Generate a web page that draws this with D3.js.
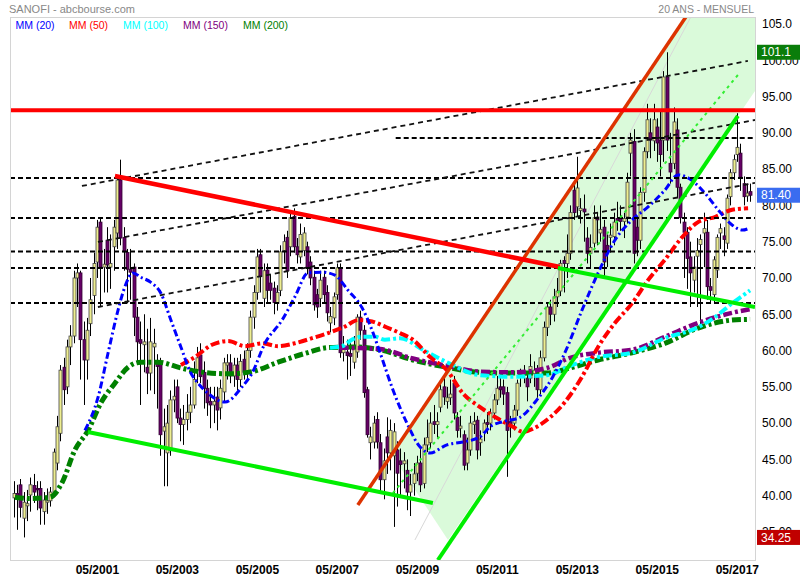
<!DOCTYPE html>
<html><head><meta charset="utf-8">
<script src="https://cdn.jsdelivr.net/npm/d3@7"></script>
<style>body{margin:0;background:#fff}svg{display:block}</style>
</head><body><svg id="c" width="800" height="580"></svg>
<script>
// ---------- DATA ----------
const firstMonth = [1999, 3]; // April 1999, monthly candles
const opens = [
39.7,40.3,41.5,36.9,38.6,40.1,41.4,41.0,41.0,37.8,39.1,39.3,
40.5,44.5,48.6,57.7,55.0,60.5,62.0,70.0,70.7,61.5,58.7,63.7,
67.6,72.2,77.7,71.5,75.2,71.5,74.3,76.2,83.5,75.6,73.5,71.2,
71.5,64.6,61.5,60.8,57.7,56.9,60.5,58.5,58.3,48.9,45.9,46.3,
53.2,55.0,50.7,49.8,50.5,51.5,52.5,57.3,59.4,57.0,54.8,53.0,
52.5,53.6,52.1,54.3,58.0,58.3,56.5,58.0,56.0,58.8,57.0,60.0,
64.6,68.0,73.2,67.2,71.1,69.3,68.6,66.5,68.3,73.8,75.6,74.3,
78.5,74.3,72.9,73.8,74.3,72.2,70.1,67.7,67.2,70.1,68.0,63.8,
64.5,67.7,71.4,59.7,59.8,59.6,58.4,59.8,64.6,62.8,54.6,47.3,
47.4,50.5,47.3,42.2,48.1,45.9,45.5,46.3,44.8,44.4,43.5,40.5,
41.7,43.1,44.5,41.7,47.0,47.3,50.2,49.8,52.2,55.0,53.0,53.5,
55.5,50.8,49.3,48.4,44.5,46.3,49.8,50.4,47.3,48.7,50.1,50.0,
51.4,53.2,55.0,55.0,54.2,50.2,50.0,51.8,56.3,56.6,56.2,56.2,
56.8,57.3,54.6,59.0,63.2,66.0,65.0,67.4,68.2,72.4,72.0,73.4,
82.1,79.8,79.3,79.5,75.5,73.4,74.8,78.4,76.2,77.0,74.5,75.6,
75.7,78.2,78.2,77.8,78.4,87.2,88.8,77.0,75.2,81.8,87.4,90.0,
88.9,90.8,89.0,89.0,97.7,85.8,85.8,90.4,82.5,77.7,76.3,72.9,
69.7,73.0,74.6,76.2,76.3,68.8,67.7,71.1,76.2,75.8,74.8,81.2,
84.5,87.0,87.2,83.0,81.3,81.9];
const highs = [
42.0,41.5,42.3,40.5,40.8,42.5,43.0,42.0,42.0,40.5,41.0,41.2,
46.5,51.0,58.0,59.0,61.5,63.5,71.0,72.0,71.0,64.0,64.5,70.0,
73.5,78.0,78.3,74.0,77.0,76.0,78.0,84.0,86.3,77.0,74.0,74.0,
72.0,66.0,64.0,65.0,63.0,64.5,63.0,59.5,59.0,52.0,52.5,54.5,
56.0,56.0,52.0,52.5,54.0,55.0,58.5,60.5,61.0,58.5,56.0,55.0,
55.0,55.0,56.0,59.0,59.5,59.5,59.0,59.0,59.5,60.0,61.0,65.5,
69.0,74.0,74.0,72.0,72.0,70.5,69.5,69.0,74.5,76.0,76.5,79.0,
79.6,75.5,77.5,77.0,75.0,73.0,71.0,68.5,71.0,71.0,69.0,66.0,
68.0,72.0,72.0,62.0,61.5,61.0,62.0,65.0,65.5,63.5,55.0,49.5,
51.0,51.5,48.5,46.5,50.8,50.5,50.0,47.5,46.5,46.0,45.0,43.0,
44.5,45.5,46.5,48.0,50.5,51.5,52.5,51.5,55.5,56.5,55.0,56.0,
56.5,51.5,51.0,49.0,48.0,51.0,51.5,51.0,49.0,50.5,51.5,52.0,
54.0,56.5,56.5,56.0,55.0,51.0,52.5,56.0,57.5,58.0,57.0,59.5,
58.5,58.0,60.0,64.0,66.5,67.0,68.5,70.0,72.5,73.0,76.0,80.0,
83.0,86.7,81.0,81.5,77.0,76.0,80.0,79.0,80.0,78.0,76.0,77.5,
79.0,80.5,80.0,79.0,84.5,90.0,90.5,78.5,82.5,88.0,94.0,92.0,
94.0,92.0,93.0,98.5,101.1,90.0,93.5,92.0,83.0,79.0,77.0,75.0,
73.0,75.5,76.0,79.0,78.0,70.0,73.0,76.0,77.5,77.0,81.5,85.0,
87.0,92.7,88.5,84.0,83.0,83.0];
const lows = [
37.0,35.3,37.0,34.25,36.5,37.8,39.0,38.0,36.0,36.0,37.5,38.5,
39.8,43.5,47.5,52.5,54.0,58.0,61.0,66.0,56.0,52.5,56.0,62.0,
65.0,70.0,66.0,68.0,68.0,68.5,71.0,74.0,74.5,71.0,66.5,67.0,
62.0,58.0,52.5,57.0,54.0,54.5,54.0,52.0,45.5,41.3,41.3,45.5,
51.5,50.0,47.5,47.0,49.0,50.0,52.0,55.5,55.5,52.0,51.0,49.3,
50.0,49.0,50.5,53.0,56.0,55.5,55.0,54.5,55.0,56.0,56.0,59.0,
63.0,67.0,68.0,66.0,66.5,67.0,65.0,65.5,67.5,72.0,70.0,73.0,
73.5,72.0,72.0,73.0,70.5,69.0,65.5,64.5,66.0,66.5,64.0,62.5,
63.5,67.0,59.0,58.5,56.0,56.5,57.5,59.0,61.5,53.5,48.0,45.0,
46.5,46.5,40.5,39.5,43.0,43.5,35.7,38.5,40.0,41.0,38.0,37.2,
40.0,42.0,40.5,41.0,46.0,46.5,48.5,48.0,51.5,52.5,52.0,52.5,
50.5,48.0,48.0,43.5,43.5,45.5,48.5,45.0,45.5,47.5,48.5,49.0,
50.5,52.5,53.5,52.5,42.6,48.0,49.0,51.0,55.0,55.5,53.0,55.5,
55.0,53.5,54.0,58.5,62.0,63.5,64.0,66.0,67.5,68.0,70.0,72.5,
78.0,78.5,77.5,75.0,72.0,71.5,74.0,74.5,75.0,70.0,71.5,73.5,
74.5,76.5,76.5,75.5,77.5,84.0,72.0,73.0,74.0,80.5,86.5,86.5,
87.5,86.0,84.0,86.0,87.5,83.0,85.0,81.0,77.5,70.0,68.5,66.0,
68.0,66.0,63.2,71.5,67.0,66.5,66.5,70.0,74.0,73.0,74.0,80.0,
83.5,86.0,82.0,80.0,80.5,80.5];
const closes = [
40.3,39.7,38.4,39.1,38.9,41.5,40.5,40.8,38.3,39.4,39.3,40.5,
46.0,49.5,57.3,54.6,60.5,62.0,70.0,70.7,61.5,58.7,62.8,67.0,
72.0,77.0,71.5,71.9,71.8,72.0,77.0,83.5,75.5,73.6,71.2,70.8,
64.6,61.2,61.0,61.2,56.9,61.2,61.0,57.8,48.4,49.5,50.0,53.2,
53.7,50.7,49.8,50.5,51.5,52.5,56.0,59.0,56.4,54.8,52.8,52.5,
53.0,51.8,54.8,58.3,58.3,56.5,58.0,56.0,58.5,57.0,60.0,64.6,
68.0,72.9,70.2,71.0,68.3,68.3,66.6,68.0,73.6,75.0,71.0,78.3,
74.3,73.2,76.0,76.2,71.4,70.0,66.3,66.0,69.7,67.7,65.2,64.7,
67.4,71.4,59.7,60.2,59.3,59.2,60.5,64.6,62.8,54.2,48.4,48.1,
50.0,47.4,42.2,44.8,45.9,49.0,48.8,43.1,44.3,44.8,40.5,41.5,
43.0,44.5,41.5,47.0,48.0,50.0,49.8,50.2,54.6,53.6,53.5,54.0,
51.4,49.0,49.6,44.2,46.3,50.0,50.2,46.3,47.8,50.0,49.8,51.4,
53.2,54.8,54.6,54.0,49.0,49.7,51.8,55.5,56.7,57.0,55.0,57.8,
57.3,54.6,59.0,63.2,66.0,65.0,67.4,68.2,72.0,72.0,73.4,79.0,
79.0,82.4,79.6,79.1,73.4,74.2,78.3,78.0,76.7,72.2,73.8,75.9,
77.7,77.9,77.8,78.2,83.2,89.0,73.4,75.2,81.8,87.4,91.8,89.0,
91.8,88.6,87.0,97.7,89.0,84.6,91.5,82.5,78.3,76.3,72.7,70.7,
71.5,73.8,75.3,76.8,68.8,68.3,72.5,75.6,76.8,75.3,81.0,84.5,
86.3,88.0,83.9,81.2,81.7,81.4];

// moving averages: [decimal year, value]
const mm20 = [[2001.03,49.0],[2001.36,53.6],[2001.61,59.7],[2001.86,65.6],[2002.03,68.8],[2002.23,70.7],[2002.43,70.1],[2002.68,69.4],[2002.93,67.9],[2003.18,64.2],[2003.43,60.5],[2003.68,56.9],[2003.86,55.5],[2004.11,54.1],[2004.53,52.9],[2004.96,55.0],[2005.21,56.9],[2005.53,61.0],[2005.96,64.2],[2006.28,67.4],[2006.61,70.7],[2006.96,70.8],[2007.28,70.4],[2007.61,68.3],[2007.96,65.9],[2008.21,62.8],[2008.41,59.7],[2008.73,54.6],[2009.08,50.0],[2009.41,46.7],[2009.66,45.9],[2010.08,47.0],[2010.48,47.4],[2010.91,48.1],[2011.16,49.5],[2011.48,50.2],[2011.91,50.8],[2012.33,53.2],[2012.73,56.4],[2013.03,59.7],[2013.46,65.6],[2013.86,70.7],[2014.28,75.2],[2014.71,78.0],[2015.11,79.8],[2015.53,82.1],[2015.86,84.2],[2016.11,83.8],[2016.53,81.7],[2016.86,79.4],[2017.21,77.3],[2017.46,76.6],[2017.66,76.9]];
const mm50 = [[2003.43,58.0],[2003.78,59.1],[2004.21,60.8],[2004.61,61.3],[2005.03,60.6],[2005.46,61.0],[2005.86,60.6],[2006.28,61.0],[2006.71,61.7],[2007.11,62.4],[2007.53,63.3],[2007.86,64.2],[2008.21,64.0],[2008.53,63.3],[2008.91,62.4],[2009.23,61.5],[2009.66,59.1],[2010.08,57.3],[2010.48,54.1],[2010.91,52.2],[2011.33,50.7],[2011.73,49.5],[2011.98,48.8],[2012.33,49.5],[2012.66,50.8],[2013.03,52.9],[2013.46,56.4],[2013.86,60.5],[2014.28,63.8],[2014.71,66.5],[2015.11,69.7],[2015.53,72.5],[2015.96,75.6],[2016.36,77.7],[2016.78,78.4],[2017.21,79.4],[2017.61,79.6]];
const mm100 = [[2007.16,60.4],[2007.46,60.6],[2007.71,61.5],[2007.96,61.9],[2008.28,61.9],[2008.53,61.5],[2008.91,61.7],[2009.48,60.1],[2010.08,58.4],[2010.91,56.6],[2011.73,56.4],[2012.58,56.6],[2013.16,57.9],[2013.86,59.1],[2014.71,59.7],[2015.53,61.7],[2016.36,63.2],[2016.78,64.6],[2017.21,66.5],[2017.66,68.3]];
const mm150 = [[2007.40,60.4],[2008.41,60.2],[2009.23,58.9],[2010.08,57.9],[2010.91,57.1],[2011.73,57.0],[2012.58,57.6],[2013.16,59.0],[2013.86,59.7],[2014.71,60.1],[2015.53,61.9],[2016.36,63.8],[2017.21,65.2],[2017.66,65.7]];
const mm200 = [[1999.28,39.8],[1999.66,39.6],[2000.16,39.8],[2000.46,41.8],[2000.78,46.3],[2001.11,49.0],[2001.43,52.8],[2001.78,55.5],[2002.11,57.7],[2002.43,58.4],[2002.86,58.4],[2003.43,57.6],[2003.86,57.1],[2004.61,56.8],[2005.21,57.1],[2005.86,58.4],[2006.53,59.6],[2007.11,60.4],[2007.71,60.5],[2008.41,60.1],[2009.23,58.7],[2010.08,57.7],[2010.91,57.0],[2011.73,56.9],[2012.58,56.9],[2013.16,57.6],[2013.86,58.7],[2014.71,59.7],[2015.53,61.0],[2016.36,63.1],[2017.21,64.2],[2017.66,64.3]];

// drawn annotations: [decimal year, value] endpoints
const hRed = [93.1];
const hDashed = [83.78, 78.27, 73.65, 71.38, 66.55];
const hDashedLate = [[2008.80, 89.29]];
const slopedDashed = [[[2000.955,82.68],[2017.605,99.9]], [[2001.355,74.96],[2017.783,91.77]], [[2001.355,66.0],[2017.783,83.1]]];
const redTrend = [[2001.78,84.05],[2012.905,71.52]];
const greenTrendHi = [[2012.855,71.38],[2017.783,66.0]];
const greenTrendLo = [[2001.105,48.78],[2009.73,39.0]];
const channelTop = [[2007.855,38.72],[2016.055,105.96]];
const channelBot = [[2009.855,31.14],[2017.355,92.32]];
const channelMid = [[2008.73,40.37],[2017.355,97.97]];
const channelFill = [[2008.708,45.61],[2016.055,105.96],[2017.783,105.96],[2017.783,95.77],[2010.108,33.9]];
const fanLines = [[[2009.28,33.9],[2016.18,105.96]]];

const yTicks = [105,100,95,90,85,80,75,70,65,60,55,50,45,40,35];
const yTickLabels = ["105.0","100.00","95.00","90.00","85.00","80.00","75.00","70.00","65.00","60.00","55.00","50.00","45.00","40.00","35.00"];
const xTickYears = [2001,2003,2005,2007,2009,2011,2013,2015,2017];
const xTickLabels = ["05/2001","05/2003","05/2005","05/2007","05/2009","05/2011","05/2013","05/2015","05/2017"];
const legend = [{t:"MM (20)",c:"#0000ff"},{t:"MM (50)",c:"#ff0000"},{t:"MM (100)",c:"#00ffff"},{t:"MM (150)",c:"#800080"},{t:"MM (200)",c:"#008000"}];
const maxVal = 101.1, lastVal = 81.40, minVal = 34.25;

// ---------- CHART ----------
const svg = d3.select("#c");
const P = {l:10, r:755, t:17, b:560};
const yd = v => { const yr = Math.floor(v); const s = new Date(yr,0,1), e = new Date(yr+1,0,1); return new Date(+s + (v-yr)*(e-s)); };
const x = d3.scaleTime().domain([yd(1999.158), yd(2017.783)]).range([P.l, P.r]);
const y = d3.scaleLinear().domain([105.96, 31.14]).range([P.t, P.b]);
const font = "'Liberation Sans', Arial, sans-serif";

svg.append("rect").attr("width",800).attr("height",580).attr("fill","#fff");
svg.append("clipPath").attr("id","clip").append("rect").attr("x",P.l).attr("y",P.t).attr("width",P.r-P.l).attr("height",P.b-P.t);
const g = svg.append("g").attr("clip-path","url(#clip)");
const pt = d => [x(yd(d[0])), y(d[1])];
const seg = (sel, d, stroke, w, dash) => sel.append("line")
  .attr("x1", pt(d[0])[0]).attr("y1", pt(d[0])[1]).attr("x2", pt(d[1])[0]).attr("y2", pt(d[1])[1])
  .attr("stroke", stroke).attr("stroke-width", w).attr("stroke-dasharray", dash || null);

// channel fill
g.append("path").attr("d", d3.line()(channelFill.map(pt)) + "Z").attr("fill", "#dafada");
fanLines.forEach(f => seg(g, f, "#d8d8d8", 1));

// candles
const candles = opens.map((o,i) => ({d: new Date(firstMonth[0], firstMonth[1]+i, 1), o, h: highs[i], l: lows[i], c: closes[i]}));
const cg = g.append("g");
candles.forEach(k => {
  const cx = Math.round(x(k.d));
  cg.append("line").attr("x1",cx+0.5).attr("x2",cx+0.5).attr("y1",y(k.h)).attr("y2",y(k.l)).attr("stroke","#000").attr("stroke-width",1);
  const top = y(Math.max(k.o,k.c)), bot = y(Math.min(k.o,k.c));
  cg.append("rect").attr("x",cx-1).attr("width",3).attr("y",top).attr("height",Math.max(1,bot-top))
    .attr("fill", k.c >= k.o ? "#eeee90" : "#660066").attr("stroke", k.c >= k.o ? "#444" : "#330033").attr("stroke-width",0.8);
});

// moving averages
const maLine = d3.line().x(d => pt(d)[0]).y(d => pt(d)[1]).curve(d3.curveMonotoneX);
[[mm200,"#008000",5,"9,3,3,3"],[mm150,"#800080",4.5,"9,3,3,3"],[mm100,"#00ffff",4,"9,3,3,3"],[mm50,"#ff0000",4,"9,3,3,3"],[mm20,"#0000ff",3,"7,3,2,3"]]
  .forEach(([d,c,w,da]) => g.append("path").attr("d", maLine(d)).attr("fill","none").attr("stroke",c).attr("stroke-width",w).attr("stroke-dasharray",da));

// dashed reference lines
hDashed.forEach(v => seg(g, [[1999.158,v],[2017.783,v]], "#000", 2, "5,3"));
hDashedLate.forEach(([s,v]) => seg(g, [[s,v],[2017.783,v]], "#000", 2, "5,3"));
slopedDashed.forEach(d => seg(g, d, "#111", 1.8, "5,4"));

// trend lines
seg(g, channelMid, "#33ee33", 2, "3,4");
seg(g, channelTop, "#dd3300", 3.5);
seg(g, channelBot, "#00ee00", 4);
seg(g, redTrend, "#ff0000", 4.5);
seg(g, greenTrendHi, "#00ee00", 4);
seg(g, greenTrendLo, "#00ee00", 4);
hRed.forEach(v => seg(g, [[1999.158,v],[2017.783,v]], "#ff0000", 4));

// frame
svg.append("rect").attr("x",P.l+0.5).attr("y",P.t+0.5).attr("width",P.r-P.l).attr("height",P.b-P.t).attr("fill","none").attr("stroke","#d4d4d4");

// y axis
const yAxis = d3.axisRight(y).tickValues(yTicks).tickSize(0).tickPadding(6).tickFormat((d,i) => yTickLabels[i]);
const ya = svg.append("g").attr("transform",`translate(${P.r+1},0)`).call(yAxis);
ya.select(".domain").remove();
ya.selectAll("text").attr("font-family",font).attr("font-size",12).attr("fill","#000");

// x axis
const xAxis = d3.axisBottom(x).tickValues(xTickYears.map(yr => new Date(yr,4,1))).tickSize(0).tickPadding(5).tickFormat((d,i) => xTickLabels[i]);
const xa = svg.append("g").attr("transform",`translate(0,${P.b})`).call(xAxis);
xa.select(".domain").remove();
xa.selectAll("text").attr("font-family","'Liberation Sans Narrow','Arial Narrow',"+font).attr("font-size",12).attr("font-weight","bold").attr("fill","#000");

// price boxes (drawn over the axis labels they cover, as in the reference)
[[maxVal,"#0a7d0a"],[lastVal,"#3a6cf0"],[minVal,"#c00000"]].forEach(([v,c]) => {
  const cy = y(v);
  svg.append("rect").attr("x",757).attr("y",cy-7.5).attr("width",43).attr("height",15).attr("fill",c);
  svg.append("text").attr("x",761).attr("y",cy).attr("dy","0.35em").attr("font-family",font).attr("font-size",12).attr("fill","#fff").text(v.toFixed(v===maxVal?1:2));
});

// titles & legend
svg.append("text").attr("x",9).attr("y",13).attr("font-family",font).attr("font-size",11).attr("fill","#888").text("SANOFI - abcbourse.com");
svg.append("text").attr("x",754).attr("y",13).attr("text-anchor","end").attr("font-family",font).attr("font-size",10.5).attr("fill","#888").text("20 ANS - MENSUEL");
const lx = [15.5, 69, 123, 183, 243];
legend.forEach((l,i) => svg.append("text").attr("x",lx[i]).attr("y",29).attr("font-family",font).attr("font-size",10.5).attr("fill",l.c).text(l.t));
</script></body></html>
